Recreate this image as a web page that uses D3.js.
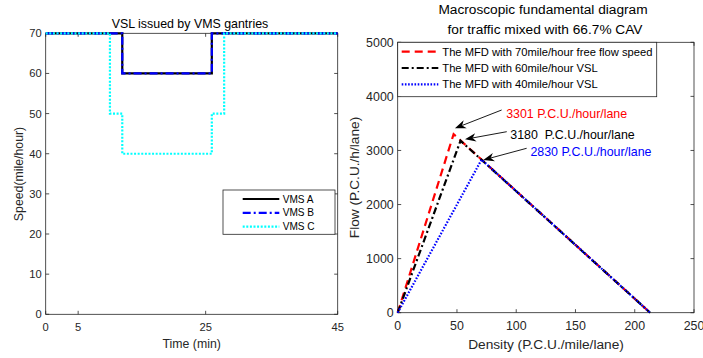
<!DOCTYPE html>
<html><head><meta charset="utf-8">
<script src="https://cdn.jsdelivr.net/npm/d3@7"></script>
<style>
body{margin:0;background:#fff}
svg{display:block}
text{font-family:"Liberation Sans",Arial,Helvetica,sans-serif;white-space:pre}
</style>
</head><body>
<svg id="c" width="703" height="358"></svg>
<script>
// ---------- data: left panel ----------
const timeTicks = [0, 5, 24.65, 45];
const timeTickLabels = ["0", "5", "25", "45"];
const speedTicks = [0, 10, 20, 30, 40, 50, 60, 70];
const vmsNames = ["VMS A", "VMS B", "VMS C"];
const vmsATime = [0, 11.8, 25.6, 45];
const vmsASpeed = [70, 60, 70, 70];
const vmsBTime = [0, 11.8, 25.6, 45];
const vmsBSpeed = [70, 60, 70, 70];
const vmsCTime = [0, 9.9, 11.8, 25.6, 27.5, 45];
const vmsCSpeed = [70, 50, 40, 50, 70, 70];

// ---------- data: right panel ----------
const densityTicks = [0, 50, 100, 150, 200, 250];
const flowTicks = [0, 1000, 2000, 3000, 4000, 5000];
const mfdNames = ["The MFD with 70mile/hour free flow speed", "The MFD with 60mile/hour VSL", "The MFD with 40mile/hour VSL"];
const mfd70Density = [0, 47.16, 213];
const mfd70Flow = [0, 3301, 0];
const mfd60Density = [0, 53.0, 213];
const mfd60Flow = [0, 3180, 0];
const mfd40Density = [0, 70.75, 213];
const mfd40Flow = [0, 2830, 0];
const capacityLabels = ["3301 P.C.U./hour/lane", "3180  P.C.U./hour/lane", "2830 P.C.U./hour/lane"];
// annotation anchors (data coords): text start, arrow tail, arrow tip
const annTextDensity = [91.5, 95, 112];
const annTextFlow = [3680, 3290, 2970];
const annTailDensity = [87.7, 92, 108.8];
const annTailFlow = [3748, 3347, 3040];
const annTipDensity = [48.3, 56.8, 72.2];
const annTipFlow = [3410, 3206, 2824];

const svg = d3.select("#c");
const AX = "#262626";
const FONT = "\"Liberation Sans\",Arial,sans-serif";

function frame(g, x, y, xt, xtl, yt, fs) {
  const [x0, x1] = x.range(), [y0, y1] = y.range(); // y0 bottom
  g.append("rect").attr("x", x0).attr("y", y1).attr("width", x1 - x0).attr("height", y0 - y1)
    .attr("fill", "none").attr("stroke", AX).attr("stroke-width", 0.8);
  const tl = 3.5;
  xt.forEach((v, i) => {
    const px = x(v);
    g.append("line").attr("x1", px).attr("x2", px).attr("y1", y0).attr("y2", y0 - tl).attr("stroke", AX).attr("stroke-width", 0.8);
    g.append("line").attr("x1", px).attr("x2", px).attr("y1", y1).attr("y2", y1 + tl).attr("stroke", AX).attr("stroke-width", 0.8);
    g.append("text").attr("x", px).attr("y", y0 + 12.5 + fs * 0.35).attr("text-anchor", "middle")
      .attr("font-size", fs).attr("fill", AX).text(xtl[i]);
  });
  yt.forEach(v => {
    const py = y(v);
    g.append("line").attr("x1", x0).attr("x2", x0 + tl).attr("y1", py).attr("y2", py).attr("stroke", AX).attr("stroke-width", 0.8);
    g.append("line").attr("x1", x1).attr("x2", x1 - tl).attr("y1", py).attr("y2", py).attr("stroke", AX).attr("stroke-width", 0.8);
    g.append("text").attr("x", x0 - 4).attr("y", py + fs * 0.36).attr("text-anchor", "end")
      .attr("font-size", fs).attr("fill", AX).text(String(v));
  });
}

// ================= LEFT PANEL =================
const xL = d3.scaleLinear().domain([0, 45]).range([45.7, 337.7]);
const yL = d3.scaleLinear().domain([0, 70]).range([314.3, 33.3]);
const gL = svg.append("g");
frame(gL, xL, yL, timeTicks, timeTickLabels, speedTicks, 11.2);

const stepLine = d3.line().x(d => xL(d[0])).y(d => yL(d[1])).curve(d3.curveStepAfter);
const leftSeries = [
  {t: vmsATime, s: vmsASpeed, color: "#000000", dash: null},
  {t: vmsBTime, s: vmsBSpeed, color: "#0000ff", dash: "8,3,2,3"},
  {t: vmsCTime, s: vmsCSpeed, color: "#00ffff", dash: "2,1.6"}
];
leftSeries.forEach(se => {
  gL.append("path").datum(d3.zip(se.t, se.s)).attr("d", stepLine)
    .attr("fill", "none").attr("stroke", se.color).attr("stroke-width", 2.2)
    .attr("stroke-dasharray", se.dash);
});
gL.append("text").attr("x", 190).attr("y", 28).attr("text-anchor", "middle").attr("font-size", 12.4).attr("fill", "#000")
  .text("VSL issued by VMS gantries");
gL.append("text").attr("x", 191.7).attr("y", 347.5).attr("text-anchor", "middle").attr("font-size", 12.3).attr("fill", AX)
  .text("Time (min)");
gL.append("text").attr("transform", "translate(23,174) rotate(-90)").attr("text-anchor", "middle").attr("font-size", 12.3).attr("fill", AX)
  .text("Speed(mile/hour)");
// legend
const lgL = gL.append("g");
lgL.append("rect").attr("x", 223).attr("y", 190).attr("width", 112).attr("height", 44.3)
  .attr("fill", "#fff").attr("stroke", AX).attr("stroke-width", 0.8);
leftSeries.forEach((se, i) => {
  const yy = 199 + i * 13.8;
  lgL.append("line").attr("x1", 242.7).attr("x2", 279.3).attr("y1", yy).attr("y2", yy)
    .attr("stroke", se.color).attr("stroke-width", 2.2).attr("stroke-dasharray", se.dash);
  lgL.append("text").attr("x", 282.7).attr("y", yy + 3.6).attr("font-size", 10.1).attr("fill", "#000").text(vmsNames[i]);
});

// ================= RIGHT PANEL =================
const xR = d3.scaleLinear().domain([0, 250]).range([397.7, 694]);
const yR = d3.scaleLinear().domain([0, 5000]).range([312.7, 42.3]);
const gR = svg.append("g");
frame(gR, xR, yR, densityTicks, densityTicks.map(String), flowTicks, 12.4);

const mfdLine = d3.line().x(d => xR(d[0])).y(d => yR(d[1]));
const rightSeries = [
  {d: mfd70Density, f: mfd70Flow, color: "#ff0000", dash: "8,5"},
  {d: mfd60Density, f: mfd60Flow, color: "#000000", dash: "7,3,2,3"},
  {d: mfd40Density, f: mfd40Flow, color: "#0000ff", dash: "1.6,1.6"}
];
rightSeries.forEach(se => {
  gR.append("path").datum(d3.zip(se.d, se.f)).attr("d", mfdLine)
    .attr("fill", "none").attr("stroke", se.color).attr("stroke-width", 2.2)
    .attr("stroke-dasharray", se.dash);
});
// annotations
const annColors = ["#ff0000", "#000000", "#0000ff"];
capacityLabels.forEach((lab, i) => {
  const tx = xR(annTailDensity[i]), ty = yR(annTailFlow[i]);
  const hx = xR(annTipDensity[i]), hy = yR(annTipFlow[i]);
  const dx = hx - tx, dy = hy - ty, L = Math.hypot(dx, dy);
  const ux = dx / L, uy = dy / L, nx = -uy, ny = ux;
  const hl = 11, hw = 4.2;
  const bx = hx - ux * hl, by = hy - uy * hl;
  gR.append("line").attr("x1", tx).attr("y1", ty).attr("x2", bx + ux * 3).attr("y2", by + uy * 3)
    .attr("stroke", "#000").attr("stroke-width", 0.9);
  const notch = [hx - ux * hl * 0.7, hy - uy * hl * 0.7];
  gR.append("path").attr("d", `M${hx},${hy}L${bx + nx * hw},${by + ny * hw}L${notch[0]},${notch[1]}L${bx - nx * hw},${by - ny * hw}Z`)
    .attr("fill", "#000");
  gR.append("text").attr("x", xR(annTextDensity[i])).attr("y", yR(annTextFlow[i]) + 4.4)
    .attr("font-size", 12.4).attr("fill", annColors[i]).text(lab);
});
gR.append("text").attr("x", 543).attr("y", 14).attr("text-anchor", "middle").attr("font-size", 13.7).attr("fill", "#000")
  .text("Macroscopic fundamental diagram");
gR.append("text").attr("x", 545).attr("y", 34).attr("text-anchor", "middle").attr("font-size", 13.7).attr("fill", "#000")
  .text("for traffic mixed with 66.7% CAV");
gR.append("text").attr("x", 546).attr("y", 348.8).attr("text-anchor", "middle").attr("font-size", 13.7).attr("fill", AX)
  .text("Density (P.C.U./mile/lane)");
gR.append("text").attr("transform", "translate(359,177.5) rotate(-90)").attr("text-anchor", "middle").attr("font-size", 13.7).attr("fill", AX)
  .text("Flow (P.C.U./h/lane)");
// legend
const lgR = gR.append("g");
lgR.append("rect").attr("x", 397.7).attr("y", 42.3).attr("width", 259).attr("height", 54.4)
  .attr("fill", "#fff").attr("stroke", AX).attr("stroke-width", 0.8);
rightSeries.forEach((se, i) => {
  const yy = 51.7 + i * 16.3;
  lgR.append("line").attr("x1", 401.7).attr("x2", 438.3).attr("y1", yy).attr("y2", yy)
    .attr("stroke", se.color).attr("stroke-width", 2.2).attr("stroke-dasharray", se.dash);
  lgR.append("text").attr("x", 442.3).attr("y", yy + 4).attr("font-size", 11.2).attr("fill", "#000").text(mfdNames[i]);
});
</script>
</body></html>
